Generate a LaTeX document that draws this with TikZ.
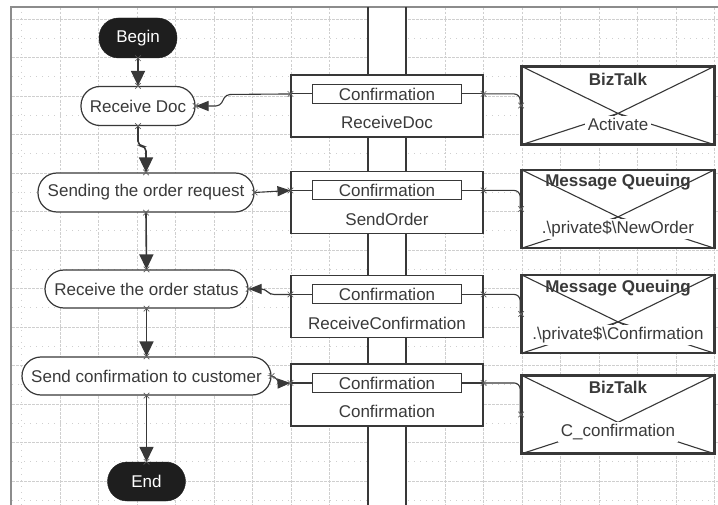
\documentclass[tikz,border=0pt]{standalone}
\usepackage{fontspec}
\setmainfont{Liberation Sans}
\usetikzlibrary{arrows.meta,shapes.misc,calc}
\definecolor{ink}{HTML}{383838}
\definecolor{txt}{HTML}{3A3A3A}
\definecolor{termfill}{HTML}{1E1E1E}
\definecolor{gridc}{HTML}{CFCFCF}
\definecolor{framec}{HTML}{8C8C8C}
\begin{document}
\begin{tikzpicture}[x=1pt,y=-1pt,
  every node/.style={font=\fontsize{17}{20}\selectfont, text=txt, inner sep=0pt},
  term/.style={rectangle, rounded corners=19.5pt, draw=termfill, fill=termfill,
    text=white, minimum width=78pt, minimum height=40pt},
  act/.style={rectangle, rounded corners=19pt, draw=ink, line width=1.2pt,
    fill=white, minimum height=39pt},
  midbox/.style={rectangle, draw=ink, line width=1.1pt, fill=white,
    minimum width=192pt, minimum height=62pt},
  inbox/.style={rectangle, draw=ink, line width=1.1pt, fill=white,
    minimum width=149pt, minimum height=19pt},
  rbox/.style={rectangle, draw=ink, line width=1.8pt, fill=white,
    minimum width=192pt, minimum height=77pt},
  rtitle/.style={font=\fontsize{17}{20}\selectfont\bfseries},
  rlabel/.style={fill=white, inner xsep=3pt, inner ysep=2pt},
  xline/.style={draw=ink, line width=1.1pt},
  flow/.style={draw=ink, line width=1.6pt, rounded corners=5pt,
    -{Triangle[length=15pt,width=14pt]}},
  side/.style={draw=ink, line width=1.1pt, rounded corners=4pt},
  sidearrow/.style={side, -{Triangle[length=13pt,width=10pt]}},
  cpt/.style={cross out, draw=ink!80, line width=0.6pt, minimum size=5pt, inner sep=0pt},
  gmaj/.style={draw=gridc, line width=0.7pt, dash pattern=on 2.5pt off 1.5pt},
  gmin/.style={draw=gridc, line width=0.8pt, dash pattern=on 1pt off 5pt},
  band/.style={draw=ink, line width=2pt}
]
\useasboundingbox (0,0) rectangle (718,505);
\fill[white] (0,0) rectangle (718,505);

% background grid, left and right of the central lane
\foreach \xa/\xb in {11/368,406/718}{
  \begin{scope}
    \clip (\xa,7) rectangle (\xb,505);
    \foreach \k in {0,...,12} \draw[gmaj] (0,19+38.5*\k) -- (718,19+38.5*\k);
    \foreach \k in {0,...,12} \draw[gmin] (0,38.25+38.5*\k) -- (718,38.25+38.5*\k);
    \foreach \k in {0,...,17} \draw[gmaj] (60+38.5*\k,0) -- (60+38.5*\k,505);
    \foreach \k in {0,...,18} \draw[gmin] (21.5+38.5*\k,0) -- (21.5+38.5*\k,505);
  \end{scope}
}
% page frame
\draw[framec, line width=1.2pt] (11,505) -- (11,7) -- (718,7);

% central lane
\draw[band] (368,7) -- (368,505);
\draw[band] (406,7) -- (406,505);

% activity flow
\node[term] (begin) at (138,38) {Begin};
\node[act, minimum width=114pt] (rdoc) at (138,106) {Receive Doc};
\node[act, minimum width=216pt] (sendreq) at (146,192.5) {Sending the order request};
\node[act, minimum width=203pt, minimum height=38pt] (rstat) at (146.5,289) {Receive the order status};
\node[act, minimum width=249pt, minimum height=38pt] (sconf) at (146.5,376) {Send confirmation to customer};
\node[term, minimum height=39pt] (endn) at (146.5,481.5) {End};

\draw[flow] (begin.south) -- (rdoc.north);
\draw[flow] (rdoc.south) -- ++(0,20) -| (sendreq.north);
\draw[flow] (sendreq.south) -- (rstat.north);
\draw[flow] (rstat.south) -- (sconf.north);
\draw[flow] (sconf.south) -- (endn.north);

% ports in the central lane
\foreach \i/\yc/\lab in {1/106/ReceiveDoc,2/202.5/SendOrder,3/306.5/ReceiveConfirmation,4/395/Confirmation}{
  \node[midbox] (m\i) at (387,\yc) {};
  \node[inbox] (m\i i) at ($(m\i.north)+(0,19.5)$) {Confirmation};
  \node (m\i t) at ($(m\i.north)+(0,48)$) {\lab};
  \coordinate (m\i l) at (m\i.west |- m\i i);
  \coordinate (m\i r) at (m\i.east |- m\i i);
  \draw[ink, line width=1.1pt] (m\i l) -- (m\i i.west);
  \draw[ink, line width=1.1pt] (m\i i.east) -- (m\i r);
}

% bindings on the right
\foreach \i/\yc in {1/105.5,2/209,3/314,4/414.5}{
  \node[rbox] (r\i) at (618,\yc) {};
  \coordinate (r\i x) at ($(r\i.north)!0.6!(r\i.south)$);
  \draw[xline] (r\i.north west) -- ($(r\i.north west)!1.12!(r\i x)$);
  \draw[xline] (r\i.north east) -- ($(r\i.north east)!1.12!(r\i x)$);
  \draw[xline] (r\i.south west) -- (r\i x);
  \draw[xline] (r\i.south east) -- (r\i x);
  \draw[ink, line width=1.8pt] (r\i.north west) rectangle (r\i.south east);
}
\node[rtitle] (r1h) at ($(r1.north)+(0,13)$) {BizTalk};
\node[rlabel] (r1b) at ($(r1.north)+(0,58)$) {Activate};
\node[rtitle] (r2h) at ($(r2.north)+(0,12.5)$) {Message Queuing};
\node[rlabel] (r2b) at ($(r2.north)+(0,59)$) {.\textbackslash private\$\textbackslash NewOrder};
\node[rtitle] (r3h) at ($(r3.north)+(0,13.5)$) {Message Queuing};
\node[rlabel] (r3b) at ($(r3.north)+(0,60)$) {.\textbackslash private\$\textbackslash Confirmation};
\node[rtitle] (r4h) at ($(r4.north)+(0,12.5)$) {BizTalk};
\node[rlabel] (r4b) at ($(r4.north)+(0,57)$) {C\textunderscore confirmation};

% connectors between flow and ports
\draw[sidearrow] (m1l) -- (226,94.5) -- (220,106) -- (rdoc.east);
\draw[sidearrow] (sendreq.east) -- (m2l);
\draw[sidearrow] (m3l) -- (270,294.5) -- (265,289) -- (rstat.east);
\draw[sidearrow] (sconf.east) -- (275,376) -- (279,383.5) -- (m4l);

% connectors between ports and bindings
\foreach \i in {1,...,4}
  \draw[side, rounded corners=6pt] (m\i r) -| ([xshift=-1pt]r\i.west);

% connection points
\foreach \p in {begin.south,rdoc.north,rdoc.south,sendreq.north,sendreq.south,
  rstat.north,rstat.south,sconf.north,sconf.south,endn.north,
  rdoc.east,sendreq.east,rstat.east,sconf.east,
  m1l,m2l,m3l,m4l,m1r,m2r,m3r,m4r,r1.west,r2.west,r3.west,r4.west}
  \node[cpt] at (\p) {};
\end{tikzpicture}
\end{document}
